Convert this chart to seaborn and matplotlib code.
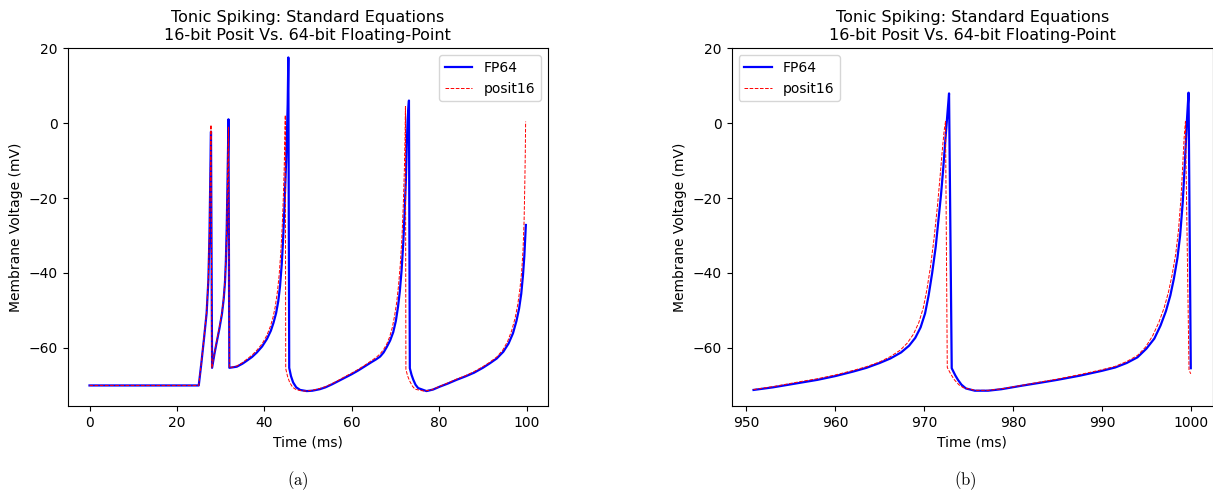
import numpy as np
import pandas as pd
import matplotlib
matplotlib.use("Agg")
import matplotlib.pyplot as plt
import seaborn as sns

# ---- data ----
# panel (a): 0-100 ms, FP64
t_fp64_a = [0, 25, 25.6, 26.2, 26.8, 27.2, 27.45, 27.6, 27.72, 27.8, 28.05,
            28.6, 29.1, 29.7, 30.3, 30.7, 31.0, 31.2, 31.4, 31.55, 31.7, 31.8, 32.0,
            33.7, 35.0, 36.0, 37.2, 38.3, 39.5, 40.6, 41.5, 42.1, 42.7, 43.2, 43.6, 44.0,
            44.3, 44.5, 44.75, 45.0, 45.2, 45.35, 45.5, 45.7,
            46.1, 46.6, 47.3, 48.2, 49.7, 51.0, 52.7, 54.0, 55.5, 57.0, 58.5, 60.0, 61.5,
            63.0, 64.5, 65.5,
            66.5, 67.3, 68.0, 68.8, 69.5, 70.1, 70.6, 71.0, 71.4, 71.8, 72.1, 72.4, 72.6,
            72.8, 73.1, 73.3,
            73.7, 74.1, 74.6, 75.2, 77.1, 78.6, 80.2, 82.0, 84.0, 86.0, 88.0, 90.0, 91.6,
            93.2, 94.7, 95.9, 96.9, 97.7, 98.3, 98.8, 99.2, 99.5, 99.85]
v_fp64_a = [-70, -70, -64, -57.5, -50.7, -42, -30, -18, -8, -2.3, -65.3,
            -61.5, -58.5, -55, -51, -47, -42.5, -37, -28, -18, -7, 1.0, -65.3,
            -65.0, -64.2, -63.4, -62.4, -61.2, -59.6, -57.6, -55.4, -53.3, -50.7, -47.5, -43.5, -37.5,
            -31, -25.5, -18, -10, -2, 5, 17.5, -65.3,
            -67.5, -69.2, -70.5, -71.2, -71.5, -71.4, -71.0, -70.5, -69.7, -68.8, -67.9, -67.0, -66.0,
            -64.9, -63.8, -63.1,
            -62.3, -61.2, -59.8, -58.0, -55.8, -52.8, -49.0, -45.0, -39.5, -32.0, -24.0, -15.0, -6.0,
            1.0, 6.0, -65.4,
            -67.2, -68.5, -69.8, -70.7, -71.5, -71.1, -70.3, -69.5, -68.5, -67.6, -66.6, -65.3, -64.1,
            -62.8, -61.0, -58.8, -56.1, -52.8, -49.5, -45.5, -40.5, -35.5, -27.2]

# panel (a): posit16
t_posit_a = [0, 25, 25.6, 26.2, 26.8, 27.2, 27.45, 27.6, 27.72, 27.8, 28.0,
             28.6, 29.1, 29.7, 30.3, 30.7, 31.0, 31.2, 31.4, 31.55, 31.7, 31.8, 32.0,
             33.7, 35.0, 36.0, 37.2, 38.3, 39.5, 40.6, 41.4, 42.0, 42.5, 43.0, 43.4, 43.8,
             44.1, 44.35, 44.55, 44.7, 44.8, 44.9,
             45.3, 45.8, 46.5, 47.4, 49.2, 51.0, 52.7, 54.0, 55.5, 57.0, 58.5, 60.0, 61.5,
             63.0, 64.5, 65.5,
             66.5, 67.3, 68.0, 68.7, 69.3, 69.8, 70.3, 70.7, 71.1, 71.5, 71.8, 72.05, 72.2,
             72.3, 72.4,
             72.8, 73.3, 73.9, 74.5, 76.5, 78.2, 80.2, 82.0, 84.0, 86.0, 88.0, 90.0, 91.6,
             93.2, 94.6, 95.7, 96.6, 97.4, 98.0, 98.5, 98.9, 99.2, 99.45, 99.6, 99.72, 99.8]
v_posit_a = [-70, -70, -63.8, -57.2, -50.3, -41, -28.5, -16.5, -6.5, -0.5, -65.3,
             -61.2, -58.2, -54.6, -50.6, -46.5, -42, -36.5, -27.5, -17.5, -7.5, -1.0, -65.3,
             -64.8, -63.9, -63.0, -61.9, -60.6, -58.9, -56.6, -54.2, -51.8, -49, -45, -40.5, -34,
             -27.5, -20, -12, -4, 2.1, -65.5,
             -67.5, -69.2, -70.5, -71.2, -71.5, -71.3, -70.8, -70.3, -69.5, -68.6, -67.6, -66.7, -65.7,
             -64.6, -63.4, -62.6,
             -61.6, -60.4, -59.0, -57.0, -54.5, -51.5, -47.8, -43.5, -38, -30.5, -22, -12.5, -4,
             4.4, -65.7,
             -67.5, -68.9, -70.2, -71.0, -71.5, -71.2, -70.2, -69.3, -68.3, -67.4, -66.3, -65.0, -63.8,
             -62.4, -60.5, -58.2, -55.4, -52, -48.4, -44.2, -39.5, -34, -26, -17, -8, 0.4]

# panel (b): 950-1000 ms, FP64
t_fp64_b = [950.8, 953, 956, 958, 960, 962, 963.5, 965, 966.2, 967.4, 968.3, 969.0, 969.6,
            970.1, 970.5, 970.9, 971.3, 971.6, 971.9, 972.15, 972.4, 972.6, 972.8, 973.1,
            973.5, 973.8, 974.2, 974.7, 975.7, 977.2, 978.7, 980.9, 983, 985, 987.5, 990,
            991.5, 992.8, 994.0, 995.0, 995.9, 996.6, 997.2, 997.7, 998.1, 998.5, 998.8,
            999.1, 999.35, 999.55, 999.75, 1000.0]
v_fp64_b = [-71.2, -70.5, -69.3, -68.5, -67.5, -66.3, -65.3, -64.0, -62.8, -61.2, -59.4, -57.3, -54.5,
            -50.8, -46, -40, -33, -26, -19, -12, -4, 2, 7.9, -65.4,
            -67.3, -68.5, -69.8, -70.8, -71.4, -71.4, -71.0, -70.1, -69.3, -68.5, -67.4, -66.1,
            -65.2, -64.0, -62.5, -60.2, -57.5, -54.0, -50.2, -46, -41.5, -36, -30,
            -21, -10, 0, 8.1, -65.4]

# panel (b): posit16
t_posit_b = [950.8, 953, 956, 958, 960, 962, 963.5, 965, 966.2, 967.3, 968.1, 968.8, 969.4,
             969.9, 970.3, 970.7, 971.1, 971.5, 971.8, 972.05, 972.25, 972.4, 972.6,
             973.0, 973.4, 973.9, 974.4, 975.7, 977.2, 978.7, 980.9, 983, 985, 987.5, 990,
             991.5, 992.8, 994.0, 994.9, 995.7, 996.4, 997.0, 997.5, 997.9, 998.3, 998.6,
             998.9, 999.1, 999.25, 999.4, 999.8, 1000.0]
v_posit_b = [-71.1, -70.3, -69.0, -68.2, -67.2, -66.0, -65.0, -63.7, -62.3, -60.6, -58.7, -56.3, -53.2,
             -49.3, -44.5, -38.5, -31, -22, -14, -7, -2, 0.4, -65.2,
             -67.0, -68.5, -69.8, -70.6, -71.3, -71.3, -70.9, -70.0, -69.1, -68.3, -67.1, -65.8,
             -64.9, -63.6, -62.0, -59.8, -56.8, -53.2, -49.3, -45, -40.5, -35, -29,
             -20, -11, -4, 0.4, -65.9, -66.9]

title = "Tonic Spiking: Standard Equations\n16-bit Posit Vs. 64-bit Floating-Point"
xlabel = "Time (ms)"
ylabel = "Membrane Voltage (mV)"
yticks = [-60, -40, -20, 0, 20]
xticks_a = [0, 20, 40, 60, 80, 100]
xticks_b = [950, 960, 970, 980, 990, 1000]
captions = ["(a)", "(b)"]

plt.rcParams["mathtext.fontset"] = "cm"
plt.rcParams["font.size"] = 10
plt.rcParams["xtick.labelsize"] = 10
plt.rcParams["ytick.labelsize"] = 10
fig = plt.figure(figsize=(12.13, 4.94), dpi=100)
ax1 = fig.add_axes([0.0558, 0.178, 0.3957, 0.7247])
ax2 = fig.add_axes([0.6032, 0.178, 0.3965, 0.7247])

panels = [(ax1, t_fp64_a, v_fp64_a, t_posit_a, v_posit_a, "upper right", xticks_a),
          (ax2, t_fp64_b, v_fp64_b, t_posit_b, v_posit_b, "upper left", xticks_b)]

for ax, tf, vf, tp, vp, loc, xt in panels:
    df1 = pd.DataFrame({"t": tf, "v": vf})
    df2 = pd.DataFrame({"t": tp, "v": vp})
    sns.lineplot(data=df1, x="t", y="v", ax=ax, color="blue", linewidth=1.6,
                 sort=False, estimator=None, label="FP64")
    sns.lineplot(data=df2, x="t", y="v", ax=ax, color="red", linewidth=0.7,
                 linestyle="--", sort=False, estimator=None, label="posit16")
    ax.set_ylim(-75.5, 20)
    ax.set_yticks(yticks)
    ax.set_xticks(xt)
    ax.set_xlabel(xlabel)
    ax.set_ylabel(ylabel)
    ax.set_title(title, fontsize=11.5)
    ax.legend(loc=loc, fontsize=10)

fig.text(0.2455, 0.028, r"$\mathrm{%s}$" % captions[0], ha="center", va="center", fontsize=12)
fig.text(0.7955, 0.028, r"$\mathrm{%s}$" % captions[1], ha="center", va="center", fontsize=12)

fig.savefig("out.png", dpi=100)
